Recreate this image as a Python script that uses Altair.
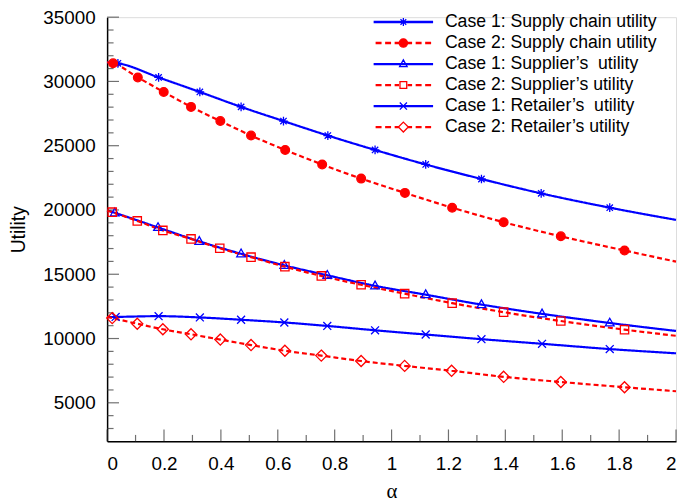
import altair as alt
import pandas as pd

# ---------------- data ----------------
SERIES = [
    "Case 1: Supply chain utility",
    "Case 2: Supply chain utility",
    "Case 1: Supplier\u2019s\u00a0 utility",
    "Case 2: Supplier\u2019s utility",
    "Case 1: Retailer\u2019s\u00a0 utility",
    "Case 2: Retailer\u2019s utility",
]

# first and last entries are the line ends (alpha = 0 and 2); the rest carry markers
c1_sc_alpha = [0.0, 0.038, 0.181, 0.326, 0.471, 0.620, 0.776, 0.942, 1.120, 1.316, 1.526, 1.767, 2.0]
c1_sc_util = [31490, 31410, 30310, 29180, 28020, 26920, 25790, 24670, 23540, 22410, 21290, 20180, 19230]

c2_sc_alpha = [0.0, 0.021, 0.108, 0.199, 0.295, 0.398, 0.506, 0.626, 0.756, 0.893, 1.047, 1.213, 1.394, 1.595, 1.819, 2.0]
c2_sc_util = [31490, 31410, 30310, 29180, 28020, 26920, 25790, 24670, 23540, 22440, 21330, 20180, 19050, 17950, 16850, 15980]

c1_sup_alpha = [0.0, 0.027, 0.179, 0.324, 0.471, 0.623, 0.774, 0.942, 1.120, 1.316, 1.529, 1.767, 2.0]
c1_sup_util = [19970, 19780, 18640, 17560, 16590, 15690, 14920, 14100, 13410, 12640, 11920, 11210, 10590]

c2_sup_alpha = [0.0, 0.018, 0.106, 0.196, 0.295, 0.396, 0.506, 0.625, 0.753, 0.893, 1.046, 1.213, 1.394, 1.595, 1.819, 2.0]
c2_sup_util = [19970, 19830, 19150, 18410, 17750, 17020, 16330, 15590, 14870, 14180, 13490, 12750, 12050, 11360, 10690, 10210]

c1_ret_alpha = [0.0, 0.030, 0.181, 0.326, 0.471, 0.623, 0.774, 0.942, 1.120, 1.316, 1.529, 1.767, 2.0]
c1_ret_util = [11670, 11680, 11740, 11640, 11460, 11250, 10980, 10640, 10310, 9950, 9590, 9180, 8850]

c2_ret_alpha = [0.0, 0.018, 0.106, 0.196, 0.295, 0.398, 0.506, 0.625, 0.753, 0.893, 1.046, 1.211, 1.394, 1.595, 1.819, 2.0]
c2_ret_util = [11680, 11590, 11150, 10720, 10330, 9920, 9490, 9050, 8670, 8250, 7870, 7490, 7020, 6620, 6210, 5900]

ALPHAS = [c1_sc_alpha, c2_sc_alpha, c1_sup_alpha, c2_sup_alpha, c1_ret_alpha, c2_ret_alpha]
UTILS = [c1_sc_util, c2_sc_util, c1_sup_util, c2_sup_util, c1_ret_util, c2_ret_util]

X_MAJOR = [0, 0.2, 0.4, 0.6, 0.8, 1, 1.2, 1.4, 1.6, 1.8, 2]
X_MINOR = [0.1, 0.3, 0.5, 0.7, 0.9, 1.1, 1.3, 1.5, 1.7, 1.9]
Y_MAJOR = [5000, 10000, 15000, 20000, 25000, 30000, 35000]
Y_MINOR = [3000, 4000, 6000, 7000, 8000, 9000, 11000, 12000, 13000, 14000,
           16000, 17000, 18000, 19000, 21000, 22000, 23000, 24000,
           26000, 27000, 28000, 29000, 31000, 32000, 33000, 34000]
X_MIN, X_MAX = 0, 2
Y_MIN, Y_MAX = 2000, 35000

# ---------------- styles ----------------
BLUE = "#0000ff"
RED = "#ff0000"
COLORS = [BLUE, RED, BLUE, RED, BLUE, RED]
FILLS = ["transparent", RED, "transparent", "transparent", "transparent", "transparent"]
DASHES = [[1, 0], [5, 3], [1, 0], [5, 3], [1, 0], [5, 3]]

ASTER = "M-1.1,0H1.1M0,-1.1V1.1M-0.8,-0.8L0.8,0.8M-0.8,0.8L0.8,-0.8"
CIRC = "M1.1,0A1.1,1.1,0,1,1,-1.1,0A1.1,1.1,0,1,1,1.1,0Z"
TRI = "M0,-1.2L1.1,0.75L-1.1,0.75Z"
SQ = "M-1.05,-1.05H1.05V1.05H-1.05Z"
XMK = "M-1,-1L1,1M-1,1L1,-1"
DIA = "M0,-1.4L1.4,0L0,1.4L-1.4,0Z"
MAIN_SHAPES = [ASTER, CIRC, TRI, SQ, XMK, DIA]


def seg(a, b):
    # a doubled thin stroke so the legend line looks as thick as the plot lines
    return f"M{a},-0.13H{b}M{a},0.13H{b}"


SOLID = seg(-7.5, 7.5)
DASHED = "".join(seg(a, b) for a, b in
                 [(-7, -5.5), (-4.6, -3.1), (-2.2, -1.1), (1.1, 2.2), (3.1, 4.6), (5.5, 7)])
LEG_SHAPES = [
    SOLID + "M-1,0H1M0,-1V1M-0.72,-0.72L0.72,0.72M-0.72,0.72L0.72,-0.72",
    DASHED + "M1.05,0A1.05,1.05,0,1,1,-1.05,0A1.05,1.05,0,1,1,1.05,0Z",
    SOLID + "M0,-1.05L0.95,0.65L-0.95,0.65Z",
    DASHED + "M-0.85,-0.85H0.85V0.85H-0.85Z",
    SOLID + "M-0.9,-0.9L0.9,0.9M-0.9,0.9L0.9,-0.9",
    DASHED + "M0,-1.25L1.25,0L0,1.25L-1.25,0Z",
]

W, H = 574, 428
FONT = "Liberation Sans"
TICK_COLOR = "#333333"

rows = []
for name, xs, ys in zip(SERIES, ALPHAS, UTILS):
    for i, (a, u) in enumerate(zip(xs, ys)):
        rows.append({"series": name, "alpha": a, "utility": u,
                     "marker": 0 < i < len(xs) - 1, "first": i == 1})
df = pd.DataFrame(rows)

xscale = alt.Scale(domain=[X_MIN, X_MAX], nice=False, zero=False)
yscale = alt.Scale(domain=[Y_MIN, Y_MAX], nice=False, zero=False)

X_AXIS = alt.Axis(values=X_MAJOR, format="~g", ticks=False, grid=False,
                  domainColor="black", domainWidth=1.5,
                  labelFont=FONT, labelFontSize=19, labelColor="black",
                  labelPadding=13, title="\u03b1", titleFont="Liberation Serif",
                  titleFontSize=21, titleFontWeight="normal", titleColor="black",
                  titlePadding=8)
Y_AXIS = alt.Axis(values=Y_MAJOR, format="d", ticks=False, grid=False,
                  domainColor="black", domainWidth=1.5,
                  labelFont=FONT, labelFontSize=19, labelColor="black",
                  labelPadding=12, title="Utility", titleFont=FONT,
                  titleFontSize=19.5, titleFontWeight="normal", titleColor="black",
                  titlePadding=15)

base = alt.Chart(df)

lines = base.mark_line(strokeWidth=2.2, interpolate="monotone").encode(
    x=alt.X("alpha:Q", scale=xscale, axis=X_AXIS),
    y=alt.Y("utility:Q", scale=yscale, axis=Y_AXIS),
    color=alt.Color("series:N", scale=alt.Scale(domain=SERIES, range=COLORS), legend=None),
    strokeDash=alt.StrokeDash("series:N", scale=alt.Scale(domain=SERIES, range=DASHES), legend=None),
)

points = base.transform_filter("datum.marker").mark_point(
    filled=True, size=64, strokeWidth=1.3, opacity=1
).encode(
    x=alt.X("alpha:Q", scale=xscale, axis=X_AXIS),
    y=alt.Y("utility:Q", scale=yscale, axis=Y_AXIS),
    fill=alt.Fill("series:N", scale=alt.Scale(domain=SERIES, range=FILLS), legend=None),
    stroke=alt.Stroke("series:N", scale=alt.Scale(domain=SERIES, range=COLORS), legend=None),
    shape=alt.Shape("series:N", scale=alt.Scale(domain=SERIES, range=MAIN_SHAPES), legend=None),
)

leg = alt.Legend(title=None, orient="none", legendX=290, legendY=-4,
                 symbolSize=64, symbolStrokeWidth=1.3, symbolOpacity=1,
                 labelFont=FONT, labelFontSize=17.8, labelColor="black",
                 labelOffset=33, labelLimit=0, rowPadding=2.2, padding=0)

legend_layer = base.transform_filter("datum.first").mark_point(
    filled=True, size=64, opacity=0
).encode(
    x=alt.X("alpha:Q", scale=xscale, axis=X_AXIS),
    y=alt.Y("utility:Q", scale=yscale, axis=Y_AXIS),
    fill=alt.Fill("series:N", scale=alt.Scale(domain=SERIES, range=FILLS), legend=leg),
    stroke=alt.Stroke("series:N", scale=alt.Scale(domain=SERIES, range=COLORS), legend=leg),
    shape=alt.Shape("series:N", scale=alt.Scale(domain=SERIES, range=LEG_SHAPES), legend=leg),
)


def xticks(values, length):
    d = pd.DataFrame({"alpha": values})
    return alt.Chart(d).mark_tick(orient="vertical", size=length, thickness=1.2,
                                  color=TICK_COLOR, yOffset=-length / 2).encode(
        x=alt.X("alpha:Q", scale=xscale, axis=X_AXIS),
        y=alt.Y(datum=Y_MIN, scale=yscale, axis=Y_AXIS),
    )


def yticks(values, length):
    d = pd.DataFrame({"utility": values})
    return alt.Chart(d).mark_tick(orient="horizontal", size=length, thickness=1.2,
                                  color=TICK_COLOR, xOffset=length / 2).encode(
        x=alt.X(datum=X_MIN, scale=xscale, axis=X_AXIS),
        y=alt.Y("utility:Q", scale=yscale, axis=Y_AXIS),
    )


chart = alt.layer(
    lines,
    xticks(X_MAJOR, 12), xticks(X_MINOR, 6.5), yticks(Y_MAJOR, 12), yticks(Y_MINOR, 6.5),
    points, legend_layer,
).resolve_scale(
    fill="independent", stroke="independent", shape="independent"
).properties(
    width=W, height=H,
    autosize=alt.AutoSizeParams(type="none"),
    padding={"left": 100, "top": 7, "right": 2, "bottom": 66},
).configure_view(stroke=None).configure(background="white")

chart.save("out.html", embed_options={"renderer": "svg", "actions": False})
